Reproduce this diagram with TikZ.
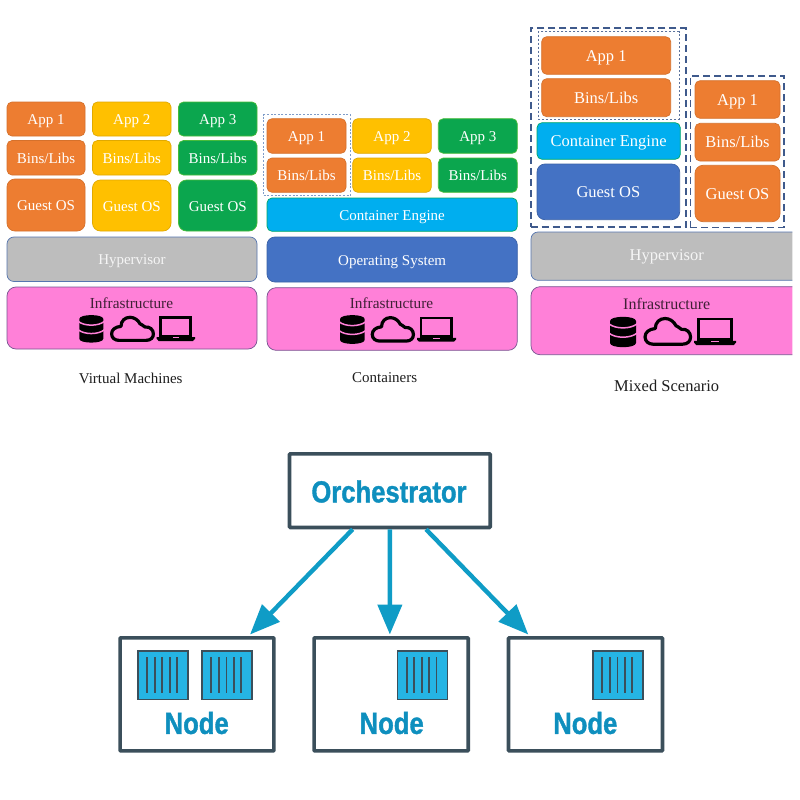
\documentclass[tikz,border=0pt]{standalone}
\usepackage{fontspec}
\setmainfont{Liberation Serif}
\newfontfamily\condfont[FakeStretch=0.84,FakeBold=1.2]{Liberation Sans Bold}
\usetikzlibrary{calc,arrows.meta}
\definecolor{orng}{HTML}{ED7D31}
\definecolor{yllw}{HTML}{FFC000}
\definecolor{grn}{HTML}{0BA64E}
\definecolor{cyn}{HTML}{00AEEF}
\definecolor{blu}{HTML}{4472C4}
\definecolor{gry}{HTML}{BDBDBD}
\definecolor{pnk}{HTML}{FF80D8}
\definecolor{dashblue}{HTML}{3F5A8C}
\definecolor{dotblue}{HTML}{7F9CC8}
\definecolor{slate}{HTML}{3B4F5B}
\definecolor{teal}{HTML}{0F9CC6}
\definecolor{tealtxt}{HTML}{0E8FBE}
\definecolor{crate}{HTML}{25B4E4}
\tikzset{
  stackbox/.style={rectangle,rounded corners=5pt,draw,line width=.7pt,inner sep=0pt,outer sep=0pt,text=white,
    font=\fontsize{15}{18}\selectfont,text height=14pt,text depth=3pt},
  big/.style={font=\fontsize{16.5}{20}\selectfont,text height=15pt,text depth=3.5pt},
  orangebox/.style={stackbox,fill=orng,draw=orng!90!black},
  yellowbox/.style={stackbox,fill=yllw,draw=yllw!88!black},
  greenbox/.style={stackbox,fill=grn,draw=grn!75!yellow},
  cyanbox/.style={stackbox,fill=cyn,draw=cyn!55!green!80!black},
  bluebox/.style={stackbox,fill=blu,draw=blu!85!black,rounded corners=8pt},
  graybox/.style={stackbox,fill=gry,draw=blu!70!gray,text=white!92!gray,rounded corners=7pt},
  pinkbox/.style={stackbox,fill=pnk,draw=blu!45!pnk!70!black,rounded corners=9pt},
  caption/.style={font=\fontsize{15}{18}\selectfont,text=black!88,inner sep=0pt},
  infratext/.style={font=\fontsize{15.3}{18}\selectfont,text=pnk!25!black,inner sep=0pt},
  vmdash/.style={draw=dashblue,line width=1.6pt,dash pattern=on 7pt off 4pt,inner sep=0pt,outer sep=0pt},
  vmdot/.style={draw=dashblue!85,line width=1pt,dash pattern=on 2pt off 2pt,inner sep=0pt,outer sep=0pt},
  condot/.style={draw=dotblue,line width=1pt,dash pattern=on 2pt off 1.6pt,inner sep=0pt,outer sep=0pt},
  framebox/.style={rectangle,draw=slate,line width=3.6pt,fill=white,rounded corners=.8pt,inner sep=0pt,outer sep=1.8pt},
  cratebox/.style={rectangle,draw=slate,line width=1.6pt,fill=crate,inner sep=0pt,outer sep=0pt},
  bigword/.style={font=\condfont\fontsize{30.5}{34}\selectfont,text=tealtxt,inner sep=0pt},
  orcharrow/.style={draw=teal,line width=4.4pt,-{Triangle[length=30pt,width=24pt,fill=teal]},shorten >=0pt}
}
% [style]{name}{x1}{y1}{x2}{y2}{text}
\newcommand{\bx}[6][]{%
  \pgfmathsetmacro{\bxcx}{(#3+#5)/2}%
  \pgfmathsetmacro{\bxcy}{(#4+#6)/2}%
  \pgfmathsetmacro{\bxw}{#5-#3}%
  \pgfmathsetmacro{\bxh}{#6-#4}%
  \node[#1,minimum width=\bxw pt,minimum height=\bxh pt] (#2) at (\bxcx,\bxcy)}
% {x1}{y1}{x2}{y2} in pixels: the three infrastructure icons
\newcommand{\dbicon}[4]{%
  \pgfmathsetmacro{\sx}{(#3-#1)/24}\pgfmathsetmacro{\sy}{(#4-#2)/28}%
  \begin{scope}[shift={(#1,#2)},x=\sx pt,y=-\sy pt]
    \fill[black] (0,4) .. controls (0,-1.2) and (24,-1.2) .. (24,4) -- (24,24) .. controls (24,29.2) and (0,29.2) .. (0,24) -- cycle;
    \draw[pnk,line width=1.5pt] (-1,6.5) .. controls (5,11.5) and (19,11.5) .. (25,6.5);
    \draw[pnk,line width=1.5pt] (-1,15) .. controls (5,20) and (19,20) .. (25,15);
  \end{scope}}
\newcommand{\cloudicon}[4]{%
  \pgfmathsetmacro{\sx}{(#3-#1)/45}\pgfmathsetmacro{\sy}{(#4-#2)/26}%
  \begin{scope}[shift={(#1,#2)},x=\sx pt,y=-\sy pt]
    \draw[black,line width=3.2pt,line join=round] (9,24.4) -- (36,24.4) .. controls (41,24.4) and (43.4,21.5) .. (43.4,18) .. controls (43.4,14) and (40,10.5) .. (35,11.2) .. controls (33,10) and (31,8) .. (30,8) .. controls (28,4) and (24,1.6) .. (20,1.6) .. controls (15,1.6) and (11,5) .. (11,10.5) .. controls (5,11) and (1.6,14) .. (1.6,18) .. controls (1.6,22) and (5,24.4) .. (9,24.4) -- cycle;
  \end{scope}}
\newcommand{\laptopicon}[4]{%
  \pgfmathsetmacro{\sx}{(#3-#1)/38.5}\pgfmathsetmacro{\sy}{(#4-#2)/25}%
  \begin{scope}[shift={(#1,#2)},x=\sx pt,y=-\sy pt]
    \draw[black,line width=2.6pt] (4,1.2) rectangle (34.2,20);
    \fill[black] (0,21.2) -- (38.5,21.2) -- (38.5,22.8) -- (36.5,25) -- (2,25) -- (0,22.8) -- cycle;
    \fill[pnk] (16,21.2) rectangle (22.5,22.4);
  \end{scope}}
\begin{document}
\begin{tikzpicture}[x=1pt,y=-1pt]
\useasboundingbox (0,0) rectangle (800,800);
\fill[white] (0,0) rectangle (800,800);

% ---- Virtual Machines
\bx[orangebox]{va1}{7}{102}{85}{136} {App 1};
\bx[orangebox]{vb1}{7}{140.5}{85}{175} {Bins/Libs};
\bx[orangebox,rounded corners=8pt]{vg1}{7}{179}{85}{231} {Guest OS};
\bx[yellowbox]{va2}{92.5}{102}{171}{136} {App 2};
\bx[yellowbox]{vb2}{92.5}{140.5}{171}{175} {Bins/Libs};
\bx[yellowbox,rounded corners=8pt]{vg2}{92.5}{180}{171}{231} {Guest OS};
\bx[greenbox]{va3}{178.5}{102}{257}{136} {App 3};
\bx[greenbox]{vb3}{178.5}{140.5}{257}{175} {Bins/Libs};
\bx[greenbox,rounded corners=8pt]{vg3}{178.5}{180}{257}{231} {Guest OS};
\bx[graybox]{vh}{7}{237}{257}{281.5} {Hypervisor};
\bx[pinkbox]{vi}{7}{287}{257}{349} {};
\node[infratext] (vit) at (131.5,303) {Infrastructure};
\dbicon{79.3}{315}{103.3}{342.7}
\cloudicon{110}{315.7}{155}{342}
\laptopicon{156.7}{316}{195}{341}
\node[caption] (vc) at (130.7,378) {Virtual Machines};

% ---- Containers
\bx[condot]{cd}{263.7}{114.7}{350}{195.7} {};
\bx[orangebox]{ca1}{267}{118.7}{346}{153.3} {App 1};
\bx[orangebox]{cb1}{267}{158}{346}{192.3} {Bins/Libs};
\bx[yellowbox]{ca2}{352.7}{118.7}{431.3}{153.3} {App 2};
\bx[yellowbox]{cb2}{352.7}{158}{431.3}{192.3} {Bins/Libs};
\bx[greenbox]{ca3}{438.3}{118.7}{517.3}{153.3} {App 3};
\bx[greenbox]{cb3}{438.3}{158}{517.3}{192.3} {Bins/Libs};
\bx[cyanbox]{ce}{267}{198}{517.3}{231.3} {Container Engine};
\bx[bluebox]{co}{267}{237}{517.3}{282} {Operating System};
\bx[pinkbox]{ci}{267}{287.7}{517.3}{350.3} {};
\node[infratext] (cit) at (391.5,303.5) {Infrastructure};
\dbicon{340}{315}{364.7}{344}
\cloudicon{370.7}{316}{415}{342.7}
\laptopicon{417}{316.7}{456}{341.7}
\node[caption] (cc) at (384.7,378) {Containers};

% ---- Mixed Scenario
\bx[vmdash]{md1}{530.7}{28}{685.7}{226.7} {};
\bx[vmdot]{mdd}{538.3}{31.7}{679}{119.3} {};
\bx[vmdash]{md2}{690.3}{76}{784}{227.3} {};
\bx[orangebox,big]{ma1}{541.7}{36.7}{670.7}{74.3} {App 1};
\bx[orangebox,big]{mb1}{541.7}{78.7}{670.7}{116.7} {Bins/Libs};
\bx[cyanbox,big]{me}{537}{122.7}{680.3}{159.3} {Container Engine};
\bx[bluebox,big]{mg}{537}{164}{679.7}{219.7} {Guest OS};
\bx[orangebox,big]{ma2}{695}{80.7}{780}{118.3} {App 1};
\bx[orangebox,big]{mb2}{695}{123.3}{780}{161} {Bins/Libs};
\bx[orangebox,big,rounded corners=8pt]{mg2}{695}{165.3}{780}{221.7} {Guest OS};
\begin{scope}
  \clip (0,0) rectangle (792.3,800);
  \bx[graybox,big]{mh}{531}{232}{802}{280.3} {};
  \bx[pinkbox]{mi}{531}{286.7}{802}{354.7} {};
\end{scope}
\node[text=white!92!gray,font=\fontsize{16.5}{20}\selectfont,inner sep=0pt] (mht) at (666.7,257) {Hypervisor};
\node[infratext,font=\fontsize{16}{20}\selectfont] (mit) at (666.7,303.8) {Infrastructure};
\dbicon{610}{316.7}{636}{347.3}
\cloudicon{643.3}{316.7}{692.3}{346}
\laptopicon{694}{317.7}{736}{345}
\node[caption,font=\fontsize{16.5}{20}\selectfont] (mc) at (666.7,385.5) {Mixed Scenario};

% ---- Orchestrator
\bx[framebox]{orch}{289.5}{453.8}{490.2}{527.5} {};
\node[bigword] (orcht) at (389,491.5) {Orchestrator};
\bx[framebox]{n1}{120.1}{637.8}{273.9}{750.9} {};
\bx[framebox]{n2}{314.1}{637.8}{468.2}{750.9} {};
\bx[framebox]{n3}{508.5}{637.8}{662.5}{750.9} {};
\node[bigword] (n1t) at (196.7,723) {Node};
\node[bigword] (n2t) at (391.7,723) {Node};
\node[bigword] (n3t) at (585.3,723) {Node};
\foreach \cn/\xa in {c1/137.9,c2/202,c3/397.3,c4/593}{
  \pgfmathsetmacro{\xb}{\xa+50}
  \bx[cratebox]{\cn}{\xa}{650.7}{\xb}{699.5} {};
  \foreach \off in {9.3,16.8,24.5,31.7,39.2}{
    \draw[slate,line width=1.9pt] ($(\cn.north west)+(\off,6.3)$) -- ($(\cn.south west)+(\off,-6.5)$);
  }
}
\draw[orcharrow] ($(orch.south west)!.318!(orch.south east)$) -- ($(n1.north west)!.837!(n1.north east)+(0,-1.5)$);
\draw[orcharrow] ($(orch.south west)!.5!(orch.south east)$) -- ($(n2.north west)!.4918!(n2.north east)+(0,-1.5)$);
\draw[orcharrow] ($(orch.south west)!.677!(orch.south east)$) -- ($(n3.north west)!.137!(n3.north east)+(0,-1.5)$);
\end{tikzpicture}
\end{document}
